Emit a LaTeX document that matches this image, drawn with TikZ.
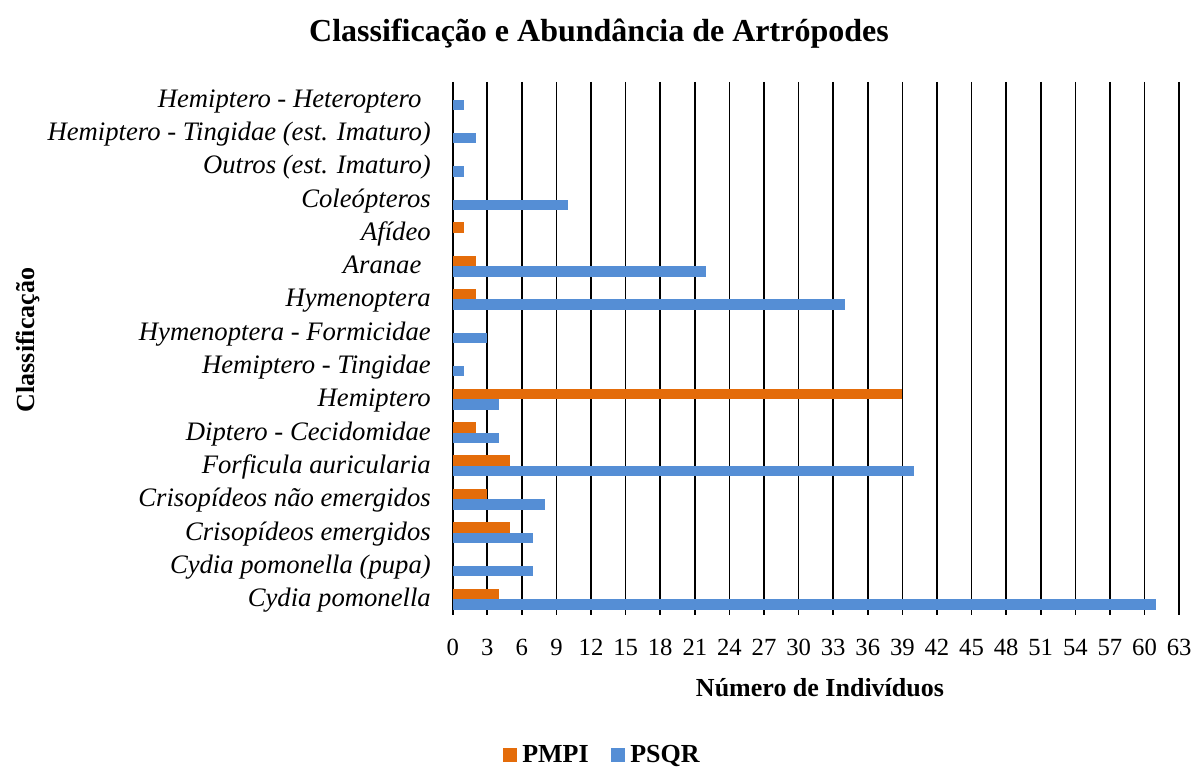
\documentclass[tikz,border=0pt]{standalone}
\usepackage{fontspec}
\setmainfont{Liberation Serif}
\definecolor{pmpi}{RGB}{228,108,10}
\definecolor{psqr}{RGB}{85,142,213}
\begin{document}
\begin{tikzpicture}[x=0.75pt,y=-0.75pt,
  catlabel/.style={anchor=base east, font=\fontsize{20}{22}\selectfont\itshape, inner sep=0pt},
  ticklabel/.style={anchor=base, font=\fontsize{18.5}{20}\selectfont, inner sep=0pt},
  gridline/.style={line width=1.2pt, black},
  barA/.style={fill=pmpi},
  barB/.style={fill=psqr},
  titlestyle/.style={anchor=base, font=\fontsize{24}{26}\selectfont\bfseries, inner sep=0pt},
  axtitle/.style={anchor=base, font=\fontsize{19.5}{22}\selectfont\bfseries, inner sep=0pt},
  legtext/.style={anchor=base west, font=\fontsize{19.5}{22}\selectfont\bfseries, inner sep=0pt},
  legbox/.style={minimum size=10.5pt, inner sep=0pt, anchor=south west}
]
\useasboundingbox (0,0) rectangle (1195,767);
% gridlines and tick labels
\foreach \k in {0,...,21} {
  \pgfmathsetmacro\gx{452.7+11.53*3*\k}
  \pgfmathtruncatemacro\lab{3*\k}
  \draw[gridline] (\gx,82) -- (\gx,615);
  \node[ticklabel] (tick\k) at (\gx,655) {\lab};
}
% bars and category labels
\foreach \i/\a/\b/\nm in {
  0/0/1/{Hemiptero - Heteroptero\kern7pt},
  1/0/2/{Hemiptero - Tingidae (est. Imaturo)},
  2/0/1/{Outros (est. Imaturo)},
  3/0/10/{Coleópteros},
  4/1/0/{Afídeo},
  5/2/22/{Aranae\kern7pt},
  6/2/34/{Hymenoptera},
  7/0/3/{Hymenoptera - Formicidae},
  8/0/1/{Hemiptero - Tingidae},
  9/39/4/{Hemiptero},
  10/2/4/{Diptero - Cecidomidae},
  11/5/40/{Forficula auricularia},
  12/3/8/{Crisopídeos não emergidos},
  13/5/7/{Crisopídeos emergidos},
  14/0/7/{Cydia pomonella (pupa)},
  15/4/61/{Cydia pomonella}} {
  \pgfmathsetmacro\cy{99.6+33.3*\i}
  \pgfmathsetmacro\xa{452.7+11.53*\a}
  \pgfmathsetmacro\xb{452.7+11.53*\b}
  \ifnum\a>0 \fill[barA] (452.7,\cy-10.6) rectangle (\xa,\cy); \fi
  \ifnum\b>0 \fill[barB] (452.7,\cy) rectangle (\xb,\cy+10.4); \fi
  \node[catlabel] (cat\i) at (431,\cy+7.5) {\nm};
}
% titles
\node[titlestyle] (title) at (599,42) {Classificação e Abundância de Artrópodes};
\node[axtitle] (xtitle) at (820,696) {Número de Indivíduos};
\node[axtitle, rotate=90] (ytitle) at (34,340) {Classificação};
% legend
\node[legbox, fill=pmpi] (legA) at (503,762) {};
\node[legtext] (legAt) at (522,762.5) {PMPI};
\node[legbox, fill=psqr] (legB) at (611,762) {};
\node[legtext] (legBt) at (630,762.5) {PSQR};
\end{tikzpicture}
\end{document}
